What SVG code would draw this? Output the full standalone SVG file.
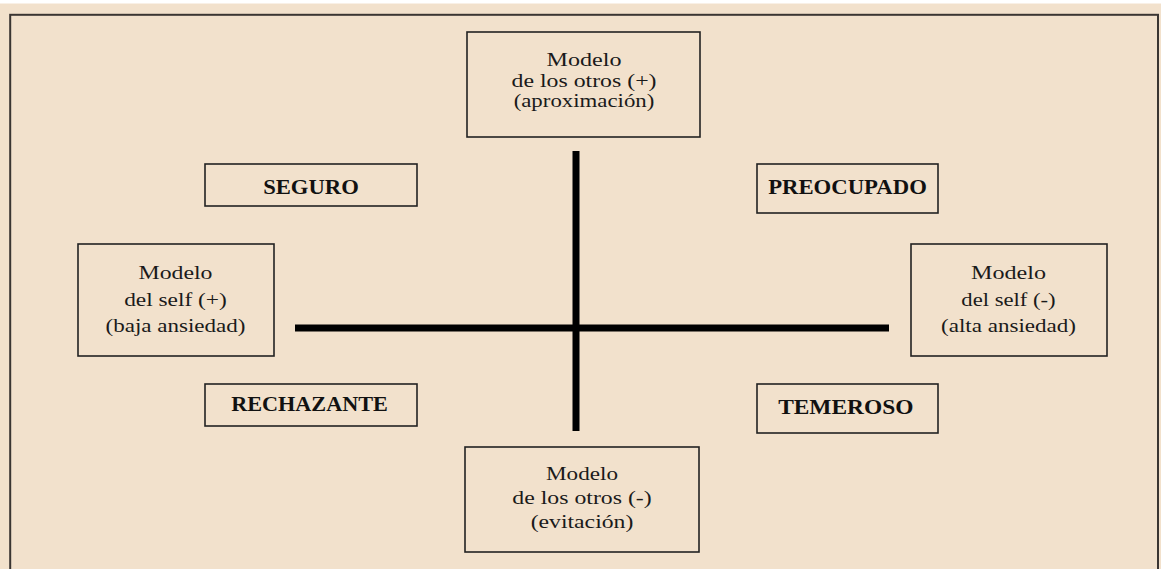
<svg xmlns="http://www.w3.org/2000/svg" width="1161" height="569" viewBox="0 0 1161 569">
<style>
.box{fill:none;stroke:#222;stroke-width:1.6}
.t{font-family:"Liberation Serif","Times New Roman",serif;font-size:18.5px;fill:#1a1a1a;text-anchor:middle}
.b{font-family:"Liberation Serif","Times New Roman",serif;font-size:21px;font-weight:bold;fill:#111;text-anchor:middle}
.axis{stroke:#000;stroke-width:7;fill:none}
</style>
<rect x="0" y="0" width="1161" height="569" fill="#F2E1CC"/>
<rect x="0" y="0" width="1161" height="3.5" fill="#ffffff"/>
<rect id="frame" x="10.2" y="14.8" width="1147.8" height="600" fill="none" stroke="#3a3532" stroke-width="2"/>
<g id="connectors">
<line class="axis" x1="576" y1="151" x2="576" y2="431"/>
<line class="axis" x1="295" y1="328" x2="889" y2="328"/>
</g>
<g id="otros-pos">
<rect class="box" x="467" y="32" width="233" height="105"/>
<text class="t" x="584" y="65.7" textLength="75" lengthAdjust="spacingAndGlyphs">Modelo</text>
<text class="t" x="584" y="87.3" textLength="145" lengthAdjust="spacingAndGlyphs">de los otros (+)</text>
<text class="t" x="584" y="107.3" textLength="140.7" lengthAdjust="spacingAndGlyphs">(aproximación)</text>
</g>
<g id="seguro">
<rect class="box" x="205" y="164" width="212" height="42"/>
<text class="b" x="311" y="194.3" textLength="95.7" lengthAdjust="spacingAndGlyphs">SEGURO</text>
</g>
<g id="preocupado">
<rect class="box" x="757" y="164" width="181" height="49"/>
<text class="b" x="847.5" y="193.7" textLength="158.7" lengthAdjust="spacingAndGlyphs">PREOCUPADO</text>
</g>
<g id="self-pos">
<rect class="box" x="78" y="244" width="196" height="112"/>
<text class="t" x="175.5" y="279" textLength="74" lengthAdjust="spacingAndGlyphs">Modelo</text>
<text class="t" x="175.5" y="306.3" textLength="102.7" lengthAdjust="spacingAndGlyphs">del self (+)</text>
<text class="t" x="175.5" y="331.7" textLength="140" lengthAdjust="spacingAndGlyphs">(baja ansiedad)</text>
</g>
<g id="self-neg">
<rect class="box" x="911" y="244" width="196" height="112"/>
<text class="t" x="1008.5" y="279" textLength="75" lengthAdjust="spacingAndGlyphs">Modelo</text>
<text class="t" x="1008.5" y="305.7" textLength="94.3" lengthAdjust="spacingAndGlyphs">del self (-)</text>
<text class="t" x="1008.5" y="331.7" textLength="135" lengthAdjust="spacingAndGlyphs">(alta ansiedad)</text>
</g>
<g id="rechazante">
<rect class="box" x="205" y="384" width="212" height="42"/>
<text class="b" x="309.5" y="411" textLength="156.7" lengthAdjust="spacingAndGlyphs">RECHAZANTE</text>
</g>
<g id="temeroso">
<rect class="box" x="757" y="384" width="181" height="49"/>
<text class="b" x="845.8" y="413.7" textLength="135.3" lengthAdjust="spacingAndGlyphs">TEMEROSO</text>
</g>
<g id="otros-neg">
<rect class="box" x="465" y="447" width="234" height="105"/>
<text class="t" x="582" y="480" textLength="72" lengthAdjust="spacingAndGlyphs">Modelo</text>
<text class="t" x="582" y="504.3" textLength="139.3" lengthAdjust="spacingAndGlyphs">de los otros (-)</text>
<text class="t" x="582" y="528.3" textLength="102.7" lengthAdjust="spacingAndGlyphs">(evitación)</text>
</g>
</svg>
